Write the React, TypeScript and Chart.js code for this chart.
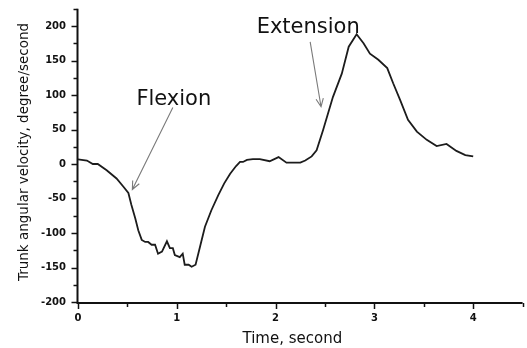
import React, { useEffect, useRef } from "react";
import { Chart, registerables } from "chart.js";

Chart.register(...registerables);

// ---- data ----
const timeSeconds = [
  0.0, 0.09, 0.15, 0.2, 0.29, 0.39, 0.46, 0.51, 0.54, 0.58, 0.61, 0.645, 0.68, 0.71, 0.745,
  0.78, 0.81, 0.85, 0.9, 0.93, 0.96, 0.98, 1.03, 1.06, 1.08, 1.12, 1.15, 1.19, 1.235, 1.285,
  1.35, 1.42, 1.48, 1.54, 1.6, 1.64, 1.67, 1.71, 1.77, 1.84, 1.94, 2.03, 2.11, 2.25, 2.3,
  2.365, 2.415, 2.48, 2.58, 2.67, 2.74, 2.82, 2.89, 2.955, 3.04, 3.13, 3.19, 3.26, 3.34,
  3.43, 3.53, 3.63, 3.73, 3.83, 3.92, 4.0,
];
const angularVelocity = [
  6.8, 5, 0, 0, -9, -21, -33, -42, -59, -79, -96, -110, -113, -113, -117,
  -117, -130, -127, -112, -122, -122, -132, -135, -130, -146, -146, -149, -146, -120, -91,
  -67, -45, -28, -14, -3, 3, 3, 6, 7, 7, 4, 10, 2, 2, 5,
  11, 20, 49, 97, 131, 170, 188, 175, 160, 151, 139, 117, 93, 64,
  47, 35, 26, 29, 19, 13, 11,
];
const yTickValues = [-200, -150, -100, -50, 0, 50, 100, 150, 200];
const xTickValues = [0, 1, 2, 3, 4];
const annotationLabels = ["Flexion", "Extension"];
const annotationTextAt = [
  [0.97, 93],
  [2.33, 198],
];
const arrowFrom = [
  [0.96, 82],
  [2.35, 177],
];
const arrowTo = [
  [0.55, -37],
  [2.46, 83],
];

const X_MIN = 0;
const X_MAX = 4.5;
const Y_MIN = -200;
const Y_MAX = 225;
const X_TITLE = "Time, second";
const Y_TITLE = "Trunk angular velocity, degree/second";

const FONT = '"DejaVu Sans", "Liberation Sans", sans-serif';

const axesPlugin = {
  id: "originAxes",
  afterDraw(chart: any) {
    const { ctx } = chart;
    const xs = chart.scales.x;
    const ys = chart.scales.y;
    const left = xs.getPixelForValue(X_MIN);
    const right = xs.getPixelForValue(X_MAX);
    const top = ys.getPixelForValue(Y_MAX);
    const bottom = ys.getPixelForValue(Y_MIN);
    ctx.save();
    ctx.strokeStyle = "#111";
    ctx.lineWidth = 2;
    ctx.beginPath();
    ctx.moveTo(left - 0.5, top);
    ctx.lineTo(left - 0.5, bottom + 1);
    ctx.lineTo(right, bottom + 1);
    ctx.stroke();
    ctx.lineWidth = 1.5;
    // y ticks
    for (let v = Y_MIN; v <= Y_MAX + 0.001; v += 25) {
      const py = Math.round(ys.getPixelForValue(v)) + 0.5;
      const len = v % 50 === 0 ? 6 : 4;
      ctx.beginPath();
      ctx.moveTo(left - 0.5, py);
      ctx.lineTo(left - 0.5 - len, py);
      ctx.stroke();
    }
    // x ticks
    for (let t = X_MIN; t <= X_MAX + 0.001; t += 0.5) {
      const px = Math.round(xs.getPixelForValue(t)) + 0.5;
      const len = Number.isInteger(t) ? 6 : 4;
      ctx.beginPath();
      ctx.moveTo(px, bottom + 1);
      ctx.lineTo(px, bottom + 1 + len);
      ctx.stroke();
    }
    // arrows
    ctx.strokeStyle = "#7a7a7a";
    ctx.lineWidth = 1.1;
    for (let i = 0; i < arrowFrom.length; i++) {
      const x1 = xs.getPixelForValue(arrowFrom[i][0]);
      const y1 = ys.getPixelForValue(arrowFrom[i][1]);
      const x2 = xs.getPixelForValue(arrowTo[i][0]);
      const y2 = ys.getPixelForValue(arrowTo[i][1]);
      const ang = Math.atan2(y2 - y1, x2 - x1);
      const head = 9;
      const spread = 0.42;
      ctx.beginPath();
      ctx.moveTo(x1, y1);
      ctx.lineTo(x2, y2);
      ctx.moveTo(x2 - head * Math.cos(ang - spread), y2 - head * Math.sin(ang - spread));
      ctx.lineTo(x2, y2);
      ctx.lineTo(x2 - head * Math.cos(ang + spread), y2 - head * Math.sin(ang + spread));
      ctx.stroke();
    }
    // annotation labels
    ctx.fillStyle = "#111";
    ctx.font = `21px ${FONT}`;
    ctx.textAlign = "center";
    ctx.textBaseline = "middle";
    for (let i = 0; i < annotationLabels.length; i++) {
      ctx.fillText(
        annotationLabels[i],
        xs.getPixelForValue(annotationTextAt[i][0]),
        ys.getPixelForValue(annotationTextAt[i][1])
      );
    }
    // axis titles
    ctx.font = `15px ${FONT}`;
    ctx.textBaseline = "alphabetic";
    ctx.fillText(X_TITLE, (left + right) / 2 - 8, 343);
    ctx.save();
    ctx.translate(28, 152);
    ctx.rotate(-Math.PI / 2);
    ctx.font = `13.5px ${FONT}`;
    ctx.fillText(Y_TITLE, 0, 0);
    ctx.restore();
    ctx.restore();
  },
};

export default function App() {
  const canvasRef = useRef<HTMLCanvasElement | null>(null);

  useEffect(() => {
    if (!canvasRef.current) return;
    const points = timeSeconds.map((t, i) => ({ x: t, y: angularVelocity[i] }));
    const chart = new Chart(canvasRef.current, {
      type: "line",
      data: {
        datasets: [
          {
            data: points,
            borderColor: "#1c1c1c",
            borderWidth: 1.8,
            pointRadius: 0,
            tension: 0,
            fill: false,
          },
        ],
      },
      options: {
        animation: false,
        responsive: false,
        devicePixelRatio: 1,
        layout: { padding: { top: 8.75, right: 4.4, left: 0, bottom: 0 } },
        plugins: { legend: { display: false }, tooltip: { enabled: false } },
        scales: {
          x: {
            type: "linear",
            min: X_MIN,
            max: X_MAX,
            grid: { display: false, drawTicks: false },
            border: { display: false },
            afterFit: (s: any) => {
              s.height = 46;
              s.paddingLeft = 0;
              s.paddingRight = 0;
            },
            afterBuildTicks: (s: any) => {
              s.ticks = xTickValues.map((v) => ({ value: v }));
            },
            ticks: {
              autoSkip: false,
              maxRotation: 0,
              padding: 10,
              color: "#111",
              font: { family: FONT, size: 10, weight: "bold" },
            },
          },
          y: {
            type: "linear",
            min: Y_MIN,
            max: Y_MAX,
            grid: { display: false, drawTicks: false },
            border: { display: false },
            afterFit: (s: any) => {
              s.width = 78;
              s.paddingTop = 0;
              s.paddingBottom = 0;
            },
            afterBuildTicks: (s: any) => {
              s.ticks = yTickValues.map((v) => ({ value: v }));
            },
            ticks: {
              autoSkip: false,
              padding: 12,
              color: "#111",
              font: { family: FONT, size: 10, weight: "bold" },
            },
          },
        },
      },
      plugins: [axesPlugin],
    });
    return () => chart.destroy();
  }, []);

  return (
    <div style={{ position: "absolute", left: 0, top: 0, width: 527, height: 348, background: "#fff" }}>
      <canvas ref={canvasRef} width={527} height={348} style={{ width: 527, height: 348 }} />
    </div>
  );
}
